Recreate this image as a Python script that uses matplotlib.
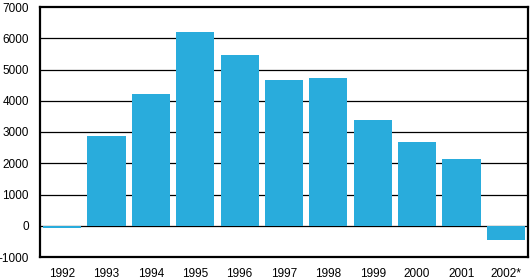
import numpy as np
import matplotlib.pyplot as plt

plt.rcParams['font.family'] = ['Liberation Sans', 'DejaVu Sans']

# values
years = ['1992', '1993', '1994', '1995', '1996', '1997', '1998', '1999', '2000', '2001', '2002*']
values = [-60, 2880, 4230, 6190, 5480, 4650, 4740, 3370, 2690, 2150, -470]
y_ticks = [-1000, 0, 1000, 2000, 3000, 4000, 5000, 6000, 7000]

fig = plt.figure(figsize=(5.3, 2.8), dpi=100)
ax = fig.add_axes([40 / 530, 23 / 280, 488 / 530, 250 / 280])

x = np.arange(len(years))
ax.bar(x, values, width=0.86, color='#29ACDC', zorder=2)

# horizontal grid lines, including zero
for t in y_ticks[1:-1]:
    ax.axhline(t, color='black', linewidth=0.9, zorder=1)

ax.set_xlim(-0.5, len(years) - 0.5)
ax.set_ylim(-1000, 7000)
ax.set_yticks(y_ticks)
ax.set_yticklabels([str(t) for t in y_ticks])
ax.set_xticks(x)
ax.set_xticklabels(years)
ax.tick_params(axis='both', length=0, labelsize=8.5)
ax.tick_params(axis='y', pad=8)
ax.tick_params(axis='x', pad=8)

for spine in ax.spines.values():
    spine.set_linewidth(1.6)
    spine.set_color('black')

fig.savefig('out.png', dpi=100)
